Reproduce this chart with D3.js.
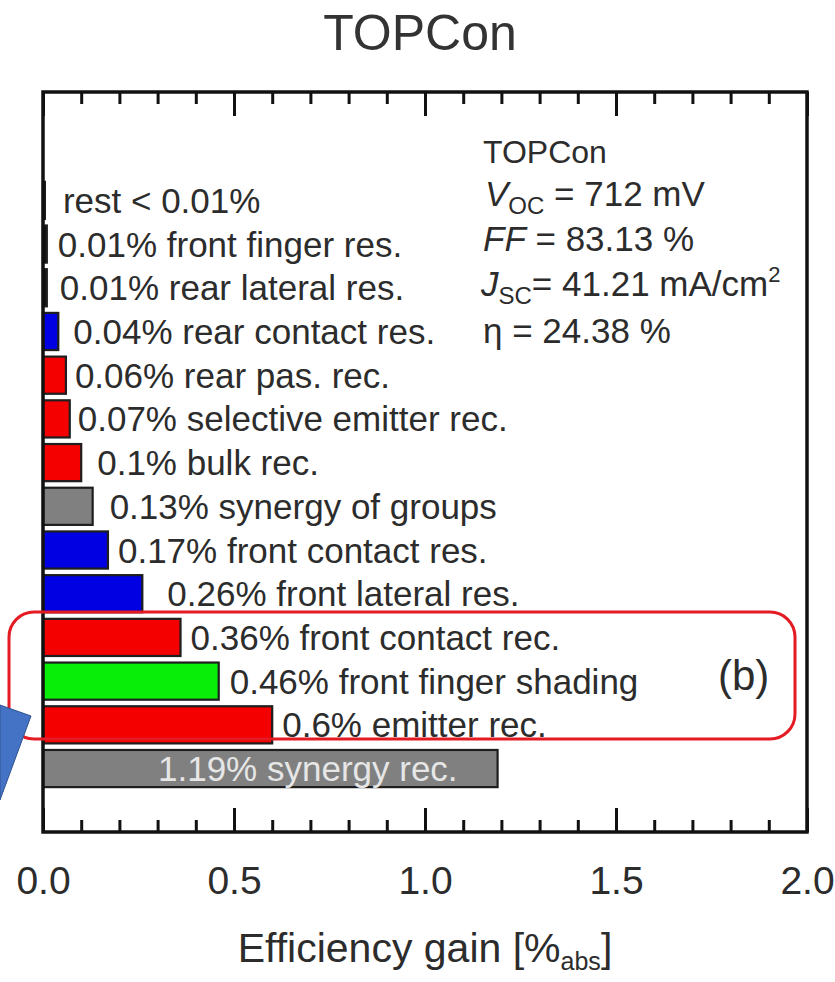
<!DOCTYPE html>
<html>
<head>
<meta charset="utf-8">
<script src="https://cdn.jsdelivr.net/npm/d3@7"></script>
<style>
  html, body { margin: 0; padding: 0; background: #fff; }
  svg { display: block; font-family: "Liberation Sans", Arial, sans-serif; }
</style>
</head>
<body>
<svg id="chart" width="835" height="982"></svg>
<script>
// Loss analysis of a TOPCon cell: efficiency gain obtained by removing each loss
const categories = [
  "rest", "front finger res.", "rear lateral res.", "rear contact res.",
  "rear pas. rec.", "selective emitter rec.", "bulk rec.", "synergy of groups",
  "front contact res.", "front lateral res.", "front contact rec.",
  "front finger shading", "emitter rec.", "synergy rec."
];
const gains = [0.005, 0.01, 0.01, 0.04, 0.06, 0.07, 0.1, 0.13, 0.17, 0.26, 0.36, 0.46, 0.6, 1.19];
const restLabel = "rest < 0.01%";
const xTicksMajor = [0, 0.5, 1.0, 1.5, 2.0];
const xTicksMinor = [0.1, 0.2, 0.3, 0.4, 0.6, 0.7, 0.8, 0.9, 1.1, 1.2, 1.3, 1.4, 1.6, 1.7, 1.8, 1.9];
const cellName = "TOPCon";
const vocValue = "712 mV";
const ffValue = "83.13 %";
const jscValue = "41.21 mA/cm";
const etaValue = "24.38 %";

// Styling / layout, kept apart from the values
const barColors = ["#111", "#111", "#111", "#0000e2", "#f50000", "#f50000", "#f50000", "#808080",
                   "#0000e2", "#0000e2", "#f50000", "#08ee08", "#f50000", "#808080"];
const labelGap = [18, 11, 13, 15, 9, 8, 16, 17, 10, 25, 10, 11, 10, 0];
const textColor = "#2c2c2c";

const svg = d3.select("#chart");
const frame = { left: 43, right: 807, top: 92, bottom: 832 };

const x = d3.scaleLinear().domain([0, 2]).range([frame.left, frame.right]);
const y = d3.scaleBand().domain(categories).range([178.5, 790.4])
  .paddingInner(0.15).paddingOuter(0.075);

// Title
svg.append("text")
  .attr("x", 420).attr("y", 50)
  .attr("text-anchor", "middle")
  .attr("font-size", 50)
  .attr("fill", "#333")
  .text(cellName);

// Bars
svg.append("g").selectAll("rect")
  .data(gains)
  .join("rect")
  .attr("x", x(0))
  .attr("y", (d, i) => y(categories[i]))
  .attr("width", d => x(d) - x(0))
  .attr("height", y.bandwidth())
  .attr("fill", (d, i) => barColors[i])
  .attr("stroke", "#1e1e1e")
  .attr("stroke-width", 2.2);

// Bar labels
const last = gains.length - 1;
svg.append("g").selectAll("text")
  .data(gains)
  .join("text")
  .attr("x", (d, i) => i === last ? x(0) + 115 : x(d) + labelGap[i])
  .attr("y", (d, i) => y(categories[i]) + y.bandwidth() / 2 + 12.5)
  .attr("font-size", 35)
  .attr("fill", (d, i) => i === last ? "#e6e6e6" : textColor)
  .text((d, i) => i === 0 ? restLabel : `${d}% ${categories[i]}`);

// Axes with inward ticks on top and bottom
const bottomMajor = d3.axisBottom(x).tickValues(xTicksMajor).tickSize(-24).tickPadding(34)
  .tickFormat(d3.format(".1f"));
const bottomMinor = d3.axisBottom(x).tickValues(xTicksMinor).tickSize(-12).tickFormat("");
const topMajor = d3.axisTop(x).tickValues(xTicksMajor).tickSize(-24).tickFormat("");
const topMinor = d3.axisTop(x).tickValues(xTicksMinor).tickSize(-12).tickFormat("");

function styleAxis(g) {
  g.select(".domain").remove();
  g.selectAll(".tick line").attr("stroke", "#111").attr("stroke-width", 3);
  g.selectAll(".tick text").attr("font-size", 39).attr("fill", textColor)
    .attr("font-family", "Liberation Sans, Arial, sans-serif");
}
svg.append("g").attr("transform", `translate(0,${frame.bottom})`).call(bottomMajor).call(styleAxis);
svg.append("g").attr("transform", `translate(0,${frame.bottom})`).call(bottomMinor).call(styleAxis);
svg.append("g").attr("transform", `translate(0,${frame.top})`).call(topMajor).call(styleAxis);
svg.append("g").attr("transform", `translate(0,${frame.top})`).call(topMinor).call(styleAxis);

// Plot frame
svg.append("rect")
  .attr("x", frame.left).attr("y", frame.top)
  .attr("width", frame.right - frame.left).attr("height", frame.bottom - frame.top)
  .attr("fill", "none").attr("stroke", "#111").attr("stroke-width", 3.5);

// Axis title
const xt = svg.append("text")
  .attr("x", 425).attr("y", 962)
  .attr("text-anchor", "middle")
  .attr("font-size", 41)
  .attr("fill", textColor);
xt.append("tspan").text("Efficiency gain [%");
xt.append("tspan").attr("font-size", 25).attr("dy", 8).text("abs");
xt.append("tspan").attr("dy", -8).text("]");

// Cell parameters
const info = svg.append("g").attr("fill", textColor).attr("font-size", 35);
info.append("text").attr("x", 483).attr("y", 163).attr("font-size", 32).text(cellName);

const voc = info.append("text").attr("x", 485).attr("y", 206);
voc.append("tspan").attr("font-style", "italic").text("V");
voc.append("tspan").attr("font-size", 24).attr("dy", 8).text("OC");
voc.append("tspan").attr("dy", -8).text(" = " + vocValue);

const ff = info.append("text").attr("x", 483).attr("y", 251);
ff.append("tspan").attr("font-style", "italic").text("FF");
ff.append("tspan").text(" = " + ffValue);

const jsc = info.append("text").attr("x", 481).attr("y", 296);
jsc.append("tspan").attr("font-style", "italic").text("J");
jsc.append("tspan").attr("font-size", 24).attr("dy", 8).text("SC");
jsc.append("tspan").attr("dy", -8).text("= " + jscValue);
jsc.append("tspan").attr("font-size", 22).attr("dy", -14).text("2");

info.append("text").attr("x", 483).attr("y", 343).text("\u03B7 = " + etaValue);

// Highlight box around the three dominant losses
svg.append("rect")
  .attr("x", 9).attr("y", 612)
  .attr("width", 786).attr("height", 127)
  .attr("rx", 25).attr("ry", 25)
  .attr("fill", "none").attr("stroke", "#e41b23").attr("stroke-width", 3);

svg.append("text")
  .attr("x", 718).attr("y", 690)
  .attr("font-size", 42)
  .attr("fill", textColor)
  .text("(b)");

// Pointer shape entering from the left edge
svg.append("path")
  .attr("d", "M0,705 L31,716 L0,800 Z")
  .attr("fill", "#4472c4")
  .attr("stroke", "#2f528f")
  .attr("stroke-width", 1);
</script>
</body>
</html>
